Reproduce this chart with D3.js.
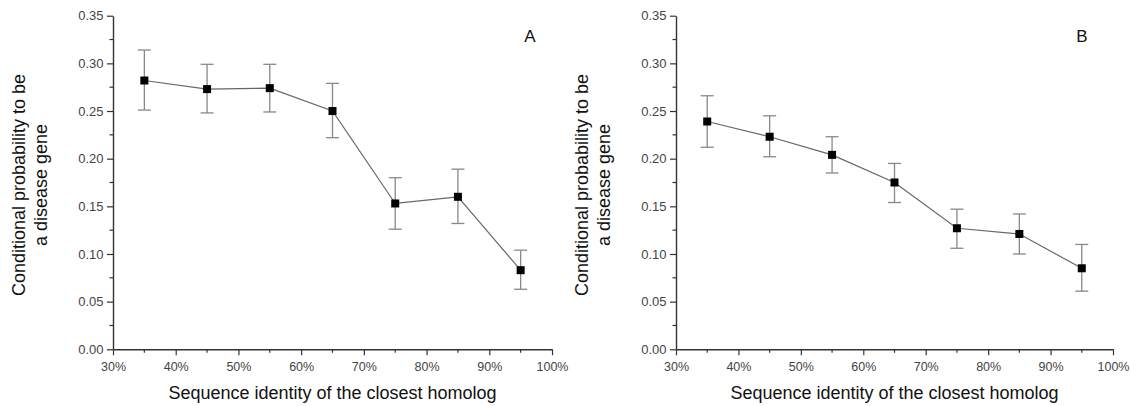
<!DOCTYPE html>
<html><head><meta charset="utf-8">
<script src="https://cdn.jsdelivr.net/npm/d3@7/dist/d3.min.js"></script>
<style>body{margin:0;background:#fff}svg{display:block}text{font-family:"Liberation Sans",Arial,sans-serif}</style>
</head><body>
<svg id="c" width="1131" height="406"></svg>
<script>
const identity = [35, 45, 55, 65, 75, 85, 95];
const xTicks = [30, 40, 50, 60, 70, 80, 90, 100];
const yTicks = [0, 0.05, 0.10, 0.15, 0.20, 0.25, 0.30, 0.35];
const probA = [0.282, 0.273, 0.274, 0.250, 0.153, 0.160, 0.083];
const lowA  = [0.251, 0.248, 0.249, 0.222, 0.126, 0.132, 0.063];
const highA = [0.314, 0.299, 0.299, 0.279, 0.180, 0.189, 0.104];
const probB = [0.239, 0.223, 0.204, 0.175, 0.127, 0.121, 0.085];
const lowB  = [0.212, 0.202, 0.185, 0.154, 0.106, 0.100, 0.061];
const highB = [0.266, 0.245, 0.223, 0.195, 0.147, 0.142, 0.110];
const yTitle = ["Conditional probability to be", "a disease gene"];
const xTitle = "Sequence identity of the closest homolog";

const svg = d3.select("#c");
const plotTop = 15.7, plotBottom = 349.3;

function panel(x0, x1, prob, low, high, label, labelX) {
  const g = svg.append("g");
  const x = d3.scaleLinear().domain([30, 100]).range([x0, x1]);
  const y = d3.scaleLinear().domain([0, 0.35]).range([plotBottom, plotTop]);
  const minorX = d3.range(35, 100, 10);
  const minorY = d3.range(0.025, 0.35, 0.05);
  const axX = g.append("g").attr("transform", `translate(0,${plotBottom})`)
    .call(d3.axisBottom(x).tickValues(xTicks).tickFormat(d => d + "%").tickSize(6).tickSizeOuter(0).tickPadding(7));
  axX.append("g").selectAll("line").data(minorX).join("line")
    .attr("x1", d => x(d)).attr("x2", d => x(d)).attr("y1", 0).attr("y2", 3.5).attr("stroke", "#333").attr("stroke-width", 1.2);
  const axY = g.append("g").attr("transform", `translate(${x0},0)`)
    .call(d3.axisLeft(y).tickValues(yTicks).tickFormat(d3.format(".2f")).tickSize(6).tickSizeOuter(0).tickPadding(3.5));
  axY.append("g").selectAll("line").data(minorY).join("line")
    .attr("y1", d => y(d)).attr("y2", d => y(d)).attr("x1", 0).attr("x2", -3.5).attr("stroke", "#333").attr("stroke-width", 1.2);
  [axX, axY].forEach(a => {
    a.select(".domain").attr("stroke", "#333").attr("stroke-width", 1.4);
    a.selectAll(".tick line").attr("stroke", "#333").attr("stroke-width", 1.2);
    a.selectAll("text").attr("fill", "#444");
  });
  axY.selectAll("text").style("font-size", "13px");
  axX.selectAll("text").style("font-size", "12.5px");
  const pts = identity.map((d, i) => ({x: d, v: prob[i], lo: low[i], hi: high[i]}));
  const eb = g.append("g").attr("stroke", "#888").attr("stroke-width", 1.3);
  eb.selectAll(".v").data(pts).join("line").attr("x1", d => x(d.x)).attr("x2", d => x(d.x))
    .attr("y1", d => y(d.lo)).attr("y2", d => y(d.hi));
  eb.selectAll(".t").data(pts).join("line").attr("x1", d => x(d.x) - 6.5).attr("x2", d => x(d.x) + 6.5)
    .attr("y1", d => y(d.hi)).attr("y2", d => y(d.hi));
  eb.selectAll(".b").data(pts).join("line").attr("x1", d => x(d.x) - 6.5).attr("x2", d => x(d.x) + 6.5)
    .attr("y1", d => y(d.lo)).attr("y2", d => y(d.lo));
  g.append("path").datum(pts).attr("fill", "none").attr("stroke", "#666").attr("stroke-width", 1.2)
    .attr("d", d3.line().x(d => x(d.x)).y(d => y(d.v)));
  g.selectAll(".m").data(pts).join("rect").attr("x", d => x(d.x) - 4).attr("y", d => y(d.v) - 4)
    .attr("width", 8).attr("height", 8).attr("fill", "#000");
  g.append("text").attr("x", labelX).attr("y", 42).attr("text-anchor", "middle")
    .style("font-size", "17px").attr("fill", "#111").text(label);
  g.append("text").attr("x", (x0 + x1) / 2).attr("y", 399).attr("text-anchor", "middle")
    .style("font-size", "18px").attr("fill", "#111").text(xTitle);
  const yt = g.append("text").attr("transform", `translate(${x0 - 88},185) rotate(-90)`)
    .attr("text-anchor", "middle").style("font-size", "18px").attr("fill", "#111");
  yt.append("tspan").attr("x", 0).attr("dy", "0").text(yTitle[0]);
  yt.append("tspan").attr("x", 0).attr("dy", "22").text(yTitle[1]);
}
panel(113, 552, probA, lowA, highA, "A", 530);
panel(676, 1113, probB, lowB, highB, "B", 1082);
</script>
</body></html>
